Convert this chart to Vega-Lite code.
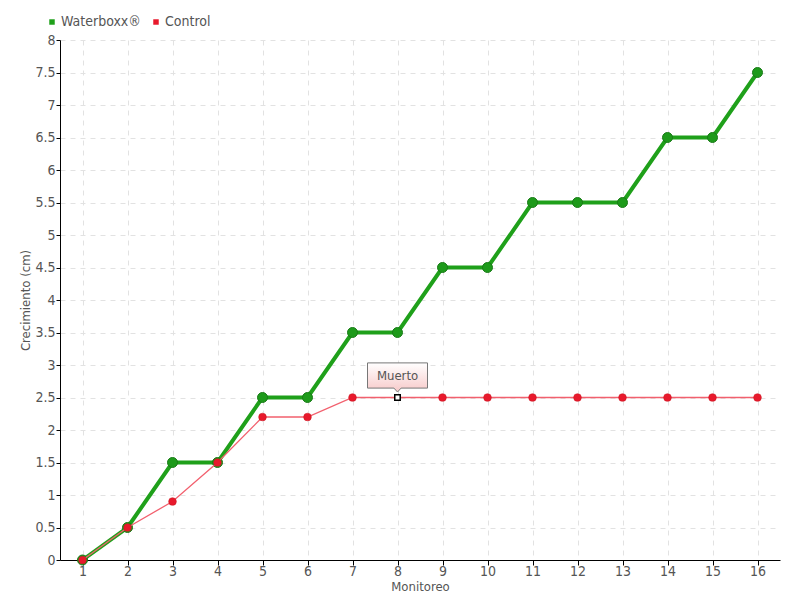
{
  "$schema": "https://vega.github.io/schema/vega-lite/v6.json",
  "width": 720,
  "height": 520,
  "autosize": "none",
  "padding": {"left": 60, "top": 40, "right": 20, "bottom": 40},
  "background": "white",
  "config": {
    "view": {"stroke": null},
    "font": "'DejaVu Sans Condensed', 'Open Sans', sans-serif",
    "axis": {
      "labelFont": "'DejaVu Sans Condensed', 'Open Sans', sans-serif",
      "titleFont": "'DejaVu Sans Condensed', 'Open Sans', sans-serif",
      "labelColor": "#555555",
      "titleColor": "#555555",
      "labelFontSize": 14,
      "titleFontSize": 13,
      "titleFontWeight": "normal",
      "domainColor": "#000000",
      "tickColor": "#000000",
      "gridColor": "#e2e2e2",
      "gridDash": [5, 5],
      "gridWidth": 1
    }
  },
  "datasets": {
    "series": [
      {"m": 1, "serie": "Waterboxx®", "v": 0},
      {"m": 2, "serie": "Waterboxx®", "v": 0.5},
      {"m": 3, "serie": "Waterboxx®", "v": 1.5},
      {"m": 4, "serie": "Waterboxx®", "v": 1.5},
      {"m": 5, "serie": "Waterboxx®", "v": 2.5},
      {"m": 6, "serie": "Waterboxx®", "v": 2.5},
      {"m": 7, "serie": "Waterboxx®", "v": 3.5},
      {"m": 8, "serie": "Waterboxx®", "v": 3.5},
      {"m": 9, "serie": "Waterboxx®", "v": 4.5},
      {"m": 10, "serie": "Waterboxx®", "v": 4.5},
      {"m": 11, "serie": "Waterboxx®", "v": 5.5},
      {"m": 12, "serie": "Waterboxx®", "v": 5.5},
      {"m": 13, "serie": "Waterboxx®", "v": 5.5},
      {"m": 14, "serie": "Waterboxx®", "v": 6.5},
      {"m": 15, "serie": "Waterboxx®", "v": 6.5},
      {"m": 16, "serie": "Waterboxx®", "v": 7.5},
      {"m": 1, "serie": "Control", "v": 0},
      {"m": 2, "serie": "Control", "v": 0.5},
      {"m": 3, "serie": "Control", "v": 0.9},
      {"m": 4, "serie": "Control", "v": 1.5},
      {"m": 5, "serie": "Control", "v": 2.2},
      {"m": 6, "serie": "Control", "v": 2.2},
      {"m": 7, "serie": "Control", "v": 2.5},
      {"m": 8, "serie": "Control", "v": 2.5},
      {"m": 9, "serie": "Control", "v": 2.5},
      {"m": 10, "serie": "Control", "v": 2.5},
      {"m": 11, "serie": "Control", "v": 2.5},
      {"m": 12, "serie": "Control", "v": 2.5},
      {"m": 13, "serie": "Control", "v": 2.5},
      {"m": 14, "serie": "Control", "v": 2.5},
      {"m": 15, "serie": "Control", "v": 2.5},
      {"m": 16, "serie": "Control", "v": 2.5}
    ],
    "note": [
      {"m": 8, "v": 2.5, "label": "Muerto"}
    ]
  },
  "encoding": {
    "x": {
      "field": "m",
      "type": "ordinal",
      "scale": {"type": "point", "padding": 0.5, "domain": [1,2,3,4,5,6,7,8,9,10,11,12,13,14,15,16]},
      "axis": {"title": "Monitoreo", "labelAngle": 0, "grid": true, "titlePadding": 2, "labelPadding": -1, "tickSize": 5}
    },
    "y": {
      "field": "v",
      "type": "quantitative",
      "scale": {"domain": [0, 8], "nice": false},
      "axis": {"title": "Crecimiento (cm)", "values": [0,0.5,1,1.5,2,2.5,3,3.5,4,4.5,5,5.5,6,6.5,7,7.5,8], "format": "~g", "grid": true, "tickSize": 4, "labelPadding": 1, "titlePadding": 2}
    }
  },
  "layer": [
    {
      "data": {"name": "series"},
      "transform": [{"filter": "datum.serie === 'Waterboxx®'"}],
      "mark": {"type": "line", "color": "#1fa01a", "strokeWidth": 4},
      "encoding": {}
    },
    {
      "data": {"name": "series"},
      "transform": [{"filter": "datum.serie === 'Waterboxx®'"}],
      "mark": {"type": "point", "filled": true, "fill": "#1d9a1a", "stroke": "#187a16", "strokeWidth": 1, "size": 100, "opacity": 1},
      "encoding": {}
    },
    {
      "data": {"name": "series"},
      "transform": [{"filter": "datum.serie === 'Control'"}],
      "mark": {"type": "line", "color": "#f2606e", "strokeWidth": 1.3},
      "encoding": {}
    },
    {
      "data": {"name": "series"},
      "transform": [{"filter": "datum.serie === 'Control' && datum.m !== 8"}],
      "mark": {"type": "point", "filled": true, "size": 60, "opacity": 1, "stroke": "#c8141e", "strokeWidth": 0.5},
      "encoding": {
        "color": {
          "field": "serie",
          "type": "nominal",
          "scale": {"domain": ["Waterboxx®", "Control"], "range": ["#1fa01a", "#e8192c"]},
          "legend": {
            "title": null,
            "orient": "none",
            "direction": "horizontal",
            "legendX": -15,
            "legendY": -25,
            "symbolType": "square",
            "symbolSize": 30,
            "symbolOpacity": 1,
            "symbolStrokeWidth": 0,
            "labelFont": "'DejaVu Sans Condensed', 'Open Sans', sans-serif",
            "labelFontSize": 14,
            "labelColor": "#555555",
            "labelOffset": 2,
            "columnPadding": 8
          }
        }
      }
    },
    {
      "data": {"name": "note"},
      "mark": {"type": "point", "shape": "square", "filled": true, "fill": "#ffffff", "stroke": "#000000", "strokeWidth": 1.5, "size": 30, "opacity": 1},
      "encoding": {}
    },
    {
      "data": {"name": "note"},
      "mark": {
        "type": "point",
        "shape": "M-1,-0.42H1V0.42H0.12L0,0.55L-0.12,0.42H-1Z",
        "size": 3600,
        "yOffset": -22,
        "filled": true,
        "opacity": 1,
        "fill": {"gradient": "linear", "x1": 0, "y1": 0, "x2": 0, "y2": 1, "stops": [{"offset": 0, "color": "#ffffff"}, {"offset": 1, "color": "#f7c9c9"}]},
        "stroke": "#777777",
        "strokeWidth": 1
      },
      "encoding": {}
    },
    {
      "data": {"name": "note"},
      "mark": {"type": "text", "font": "'DejaVu Sans Condensed', 'Open Sans', sans-serif", "fontSize": 13, "color": "#555555", "yOffset": -22, "align": "center", "baseline": "middle"},
      "encoding": {"text": {"field": "label"}}
    }
  ]
}
